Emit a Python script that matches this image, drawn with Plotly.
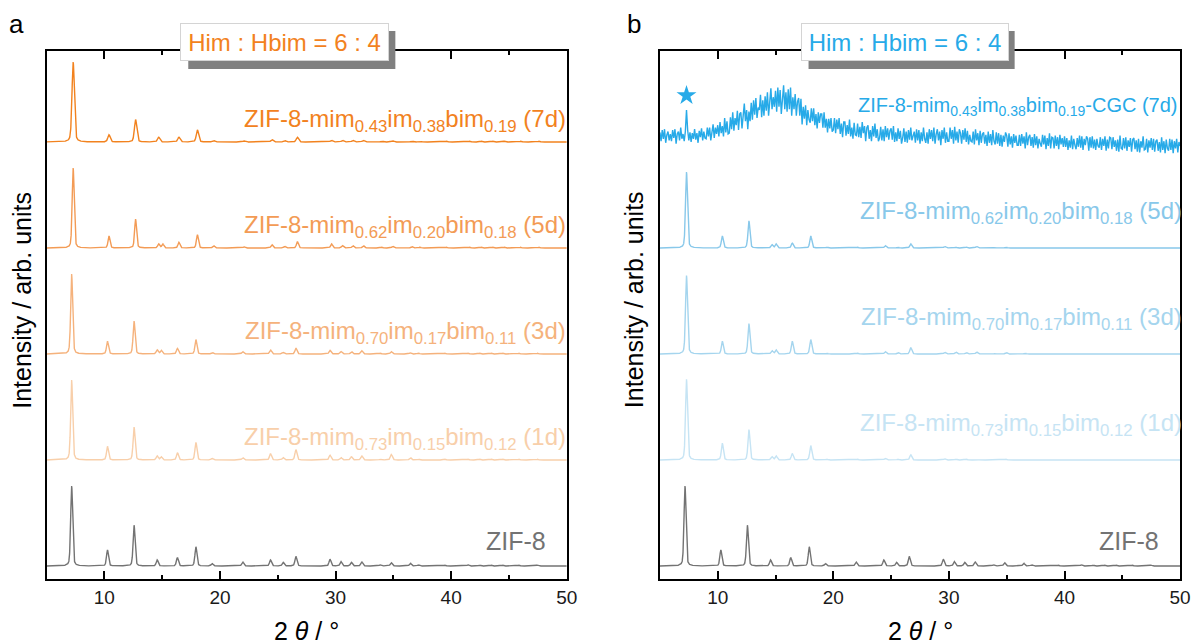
import numpy as np
import plotly.graph_objects as go

# ---------------- data ----------------
PEAK_POS = [7.3, 10.4, 12.7, 14.7, 15.05, 16.45, 18.05, 19.45, 22.1, 24.5, 25.6, 26.7,
            29.65, 30.6, 31.5, 32.4, 34.0, 34.95, 36.6, 37.3, 39.6, 41.6, 42.6, 43.6,
            44.6, 46.0, 47.6]

ZIF8 = [100, 20, 51, 7.5, 0, 10.5, 24, 3, 5, 7.5, 4.5, 12, 8.5, 5.5, 4.5, 5, 1.5, 4, 3.5,
        1.5, 1, 1.5, 1, 1, 1, 1, 1.2]
A_1D = [100, 17, 41, 5, 4, 9, 22, 2, 3, 8, 3, 13, 6, 3, 4, 5, 1, 7, 3, 1, 1, 1, 1, 1, 1, 1, 1]
A_3D = [100, 16, 41, 5, 4.5, 7, 18, 2, 3, 5, 2, 7.5, 4.5, 3, 3, 4, 1, 3, 1.5, 1, 1, 1, 1, 1, 1, 1, 1]
A_5D = [100, 15, 36, 5, 5, 7, 16.5, 3, 1.5, 4, 2, 8, 5, 3, 3, 3, 1, 2, 2, 1, 1, 1, 1, 1, 1, 1, 1]
A_7D = [100, 9, 28, 6, 0, 6, 15, 2, 1.5, 3, 2, 6, 2, 2, 2, 2, 1, 1.5, 1, 1, 1, 1, 1, 1, 1, 1, 1]

B_1D = [101, 21, 38, 4, 5, 8, 18, 1, 1, 2, 1, 6.5, 1.5, 1, 1, 1, 0.5, 1, 0.5, 0.5, 0.5, 0.5,
        0.5, 0.5, 0.5, 0.5, 0.5]
B_3D = [98, 16, 38, 4, 5, 16, 18, 1, 1, 3, 2, 8, 2, 2.5, 2, 2.5, 0.5, 2, 1, 0.5, 0.5, 0.5,
        0.5, 0.5, 0.5, 0.5, 0.5]
B_5D = [95, 15, 34, 4, 5, 6, 15, 1, 1, 3, 1, 5, 2, 1, 1, 2, 0.5, 1, 0.5, 0.5, 0.5, 0.5, 0.5,
        0.5, 0.5, 0.5, 0.5]

# peak-position shifts (deg) per pattern
SHIFT_ZIF8 = -0.13
SHIFT_A = {"1d": -0.13, "3d": -0.13, "5d": 0.0, "7d": 0.0}

# amorphous CGC pattern, 5.0 .. 50.0 deg in 0.1 deg steps
CGC_START, CGC_STEP = 5.0, 0.1
CGC = [12, 1, 15, 4, 16, -1, 9, 13, 2, 10,
       1, 15, 5, 16, -2, 10, 13, 2, 18, 4,
       10, 1, 13, 40, 15, 2, 12, 0, 11, 4,
       16, 3, 11, -1, 14, 6, 17, 2, 13, 5,
       4, 18, 7, 18, 2, 16, 22, 5, 18, 10,
       21, 7, 25, 11, 20, 7, 30, 12, 26, 10,
       11, 31, 16, 37, 14, 30, 21, 39, 15, 35,
       37, 17, 34, 48, 26, 40, 16, 38, 26, 49,
       28, 52, 34, 55, 30, 43, 40, 59, 31, 52,
       33, 57, 39, 62, 33, 53, 67, 41, 56, 44,
       64, 38, 68, 44, 65, 35, 59, 71, 41, 62,
       38, 66, 41, 68, 33, 56, 41, 60, 33, 50,
       55, 33, 54, 22, 44, 29, 46, 21, 40, 28,
       24, 42, 26, 42, 21, 35, 17, 37, 24, 35,
       35, 18, 37, 18, 29, 12, 29, 17, 30, 13,
       15, 30, 11, 28, 16, 30, 10, 23, 6, 25,
       25, 8, 21, 10, 28, 7, 18, 4, 24, 9,
       8, 23, 6, 19, 5, 25, 11, 20, 1, 18,
       21, 4, 15, 1, 20, 7, 23, 5, 16, 1,
       5, 19, 2, 16, 1, 20, 6, 17, 3, 14,
       17, 3, 20, 0, 12, 1, 17, 4, 14, -2,
       5, 17, 0, 13, -1, 15, 3, 18, 2, 10,
       13, -1, 16, 2, 15, -2, 12, 1, 18, 4,
       -1, 12, -2, 16, 4, 15, 1, 18, -2, 10,
       16, 2, 13, -4, 15, 4, 18, -1, 12, 1,
       1, 18, 4, 15, -2, 19, 2, 13, -1, 16,
       11, -2, 15, 3, 17, 0, 14, -3, 9, 1,
       0, 13, -3, 16, 2, 11, -4, 14, -1, 10,
       12, -2, 9, -5, 13, -1, 10, -4, 15, 1,
       -3, 12, -2, 11, -5, 9, -6, 8, 0, 12,
       8, -6, 11, -3, 7, -7, 10, -1, 8, -4,
       -4, 9, -5, 10, -2, 7, -8, 12, -4, 6,
       9, -5, 6, -7, 10, -4, 7, -8, 4, -2,
       -6, 9, -3, 8, -9, 5, -5, 11, -8, 6,
       5, -8, 8, -5, 6, -9, 9, -3, 5, -6,
       7, -6, 5, -10, 2, -7, 8, -9, 4, -4,
       -9, 5, -6, 8, -7, 7, -10, 4, -4, 7,
       4, -11, 6, -7, 7, -8, 3, -10, 4, -5,
       -7, 6, -10, 4, -5, 7, -11, 3, -8, 6,
       5, -9, 6, -6, 2, -11, 3, -12, 8, -8,
       -9, 5, -8, 6, -11, 2, -6, 5, -12, 3,
       5, -9, 2, -12, 4, -13, 1, -7, 7, -10,
       -9, 4, -13, 2, -7, 5, -10, 4, -12, 1,
       3, -11, 0, -13, 6, -10, 1, -14, 3, -8,
       -11, 4, -10, 3, -14, 1, -8, 4, -13, 0,
       -5]
STAR_X, STAR_Y = 7.3, 58

OFFSET = 132.5
LABELS_A = ["ZIF-8",
            "ZIF-8-mim<sub>0.73</sub>im<sub>0.15</sub>bim<sub>0.12</sub> (1d)",
            "ZIF-8-mim<sub>0.70</sub>im<sub>0.17</sub>bim<sub>0.11</sub> (3d)",
            "ZIF-8-mim<sub>0.62</sub>im<sub>0.20</sub>bim<sub>0.18</sub> (5d)",
            "ZIF-8-mim<sub>0.43</sub>im<sub>0.38</sub>bim<sub>0.19</sub> (7d)"]
LABELS_B = ["ZIF-8",
            "ZIF-8-mim<sub>0.73</sub>im<sub>0.15</sub>bim<sub>0.12</sub> (1d)",
            "ZIF-8-mim<sub>0.70</sub>im<sub>0.17</sub>bim<sub>0.11</sub> (3d)",
            "ZIF-8-mim<sub>0.62</sub>im<sub>0.20</sub>bim<sub>0.18</sub> (5d)",
            "ZIF-8-mim<sub>0.43</sub>im<sub>0.38</sub>bim<sub>0.19</sub>-CGC (7d)"]
BOX_TEXT = "Him : Hbim = 6 : 4"

# ---------------- style ----------------
GRAY = "#737373"
ORANGES = [GRAY, "#F8CFAA", "#F5B27C", "#F39B55", "#F2821E"]
BLUES = [GRAY, "#C6E4F4", "#A5D5EE", "#88C8EA", "#27AAE8"]
FONT = "Liberation Sans, Arial, sans-serif"

W, H = 1204, 644
PL = (47, 572)
PR = (666, 1191)
PT, PB = 51, 579
BOXES = [(183, 392, ORANGES[4]), (809, 1017, BLUES[4])]   # box left/right (px)
BOX_T, BOX_B = 23, 61
SHADOW_DX, SHADOW_DY = 7, 8

grid = np.round(np.arange(5.0, 50.0001, 0.01), 2)


def profile(heights, shift, fwhm=0.2):
    y = np.zeros_like(grid)
    sig = fwhm / 2.3548
    for p, h in zip(PEAK_POS, heights):
        if h <= 0:
            continue
        d = grid - (p + shift)
        y += h * (0.65 * np.exp(-0.5 * (d / sig) ** 2) + 0.35 / (1 + (2 * d / fwhm) ** 2))
    return y


fig = go.Figure()

# left panel
left_sets = [(ZIF8, SHIFT_ZIF8), (A_1D, SHIFT_A["1d"]), (A_3D, SHIFT_A["3d"]),
             (A_5D, SHIFT_A["5d"]), (A_7D, SHIFT_A["7d"])]
for i, (hs, sh) in enumerate(left_sets):
    fig.add_trace(go.Scatter(x=grid, y=profile(hs, sh, 0.24 if i == 4 else 0.2) + i * OFFSET,
                             mode="lines", line=dict(color=ORANGES[i], width=1.4),
                             xaxis="x", yaxis="y", hoverinfo="skip"))

# right panel
right_sets = [(ZIF8, SHIFT_ZIF8), (B_1D, 0.0), (B_3D, 0.0), (B_5D, 0.0)]
for i, (hs, sh) in enumerate(right_sets):
    fig.add_trace(go.Scatter(x=grid, y=profile(hs, sh) + i * OFFSET,
                             mode="lines", line=dict(color=BLUES[i], width=1.4),
                             xaxis="x2", yaxis="y2", hoverinfo="skip"))
cgc_x = CGC_START + CGC_STEP * np.arange(len(CGC))
fig.add_trace(go.Scatter(x=cgc_x, y=np.array(CGC) + 4 * OFFSET, mode="lines",
                         line=dict(color=BLUES[4], width=1.4), xaxis="x2", yaxis="y2",
                         hoverinfo="skip"))
fig.add_trace(go.Scatter(x=[STAR_X], y=[STAR_Y + 4 * OFFSET], mode="markers",
                         marker=dict(symbol="star", size=15, color=BLUES[4]),
                         xaxis="x2", yaxis="y2", hoverinfo="skip"))

ydom = [(H - PB) / H, (H - PT) / H]
yrng = [-13 / 0.8, (PB - PT - 13) / 0.8]


def xax(dom, anchor):
    return dict(domain=[dom[0] / W, dom[1] / W], range=[5, 50], anchor=anchor,
                tickvals=[10, 20, 30, 40, 50], ticks="inside", ticklen=8, tickwidth=1.5,
                tickcolor="black", showline=True, linecolor="black", linewidth=1.5,
                mirror="ticks", showgrid=False, zeroline=False,
                tickfont=dict(family=FONT, size=19, color="#1a1a1a"),
                minor=dict(tickvals=[15, 25, 35, 45], ticks="inside", ticklen=4.5,
                           tickwidth=1.5, tickcolor="black"))


def yax(anchor):
    return dict(domain=ydom, range=yrng, anchor=anchor, showticklabels=False, ticks="",
                showline=True, linecolor="black", linewidth=1.5, mirror=True,
                showgrid=False, zeroline=False)


fig.update_layout(width=W, height=H, margin=dict(l=0, r=0, t=0, b=0),
                  paper_bgcolor="white", plot_bgcolor="white", showlegend=False,
                  font=dict(family=FONT),
                  xaxis=xax(PL, "y"), yaxis=yax("x"),
                  xaxis2=xax(PR, "y2"), yaxis2=yax("x2"))

ann = []
shapes = []
# sample labels
for i, t in enumerate(LABELS_A):
    ann.append(dict(x=50, y=i * OFFSET + (31 if i == 0 else 27), xref="x", yref="y",
                    text=t, showarrow=False, xanchor="right", yanchor="middle",
                    xshift=-19 if i == 0 else 1,
                    font=dict(family=FONT, size=25 if i == 0 else 24,
                              color=ORANGES[i] if i else "#737373")))
for i, t in enumerate(LABELS_B):
    ann.append(dict(x=50, y=i * OFFSET + (31 if i == 0 else 44), xref="x2", yref="y2",
                    text=t, showarrow=False, xanchor="right", yanchor="middle",
                    xshift=-19 if i == 0 else (0 if i == 4 else 4),
                    font=dict(family=FONT, size=25 if i == 0 else (20 if i == 4 else 24),
                              color=BLUES[i] if i else "#737373")))

# framed titles with drop shadow
for x0, x1, col in BOXES:
    shapes.append(dict(type="rect", xref="paper", yref="paper", layer="above",
                       x0=(x0 + SHADOW_DX) / W, x1=(x1 + SHADOW_DX) / W,
                       y0=1 - (BOX_B + SHADOW_DY) / H, y1=1 - (BOX_T + SHADOW_DY) / H,
                       fillcolor="#808080", line=dict(width=0)))
    ann.append(dict(x=(x0 + x1) / 2 / W, y=1 - (BOX_T + BOX_B) / 2 / H, xref="paper",
                    yref="paper", text=BOX_TEXT, showarrow=False, xanchor="center",
                    yanchor="middle", width=x1 - x0 - 12, height=BOX_B - BOX_T - 12,
                    bgcolor="white", bordercolor="#d4d4d4", borderwidth=1, borderpad=5,
                    font=dict(family=FONT, size=24, color=col)))

# panel letters
for x, t in [(17, "a"), (640, "b")]:
    ann.append(dict(x=x / W, y=1 - 24 / H, xref="paper", yref="paper", text=t,
                    showarrow=False, xanchor="center", yanchor="middle",
                    font=dict(family=FONT, size=26, color="black")))

# axis titles
for cx in [(PL[0] + PL[1]) / 2, (PR[0] + PR[1]) / 2]:
    ann.append(dict(x=cx / W, y=1 - 631 / H, xref="paper", yref="paper",
                    text="2 <i>θ</i> / °", showarrow=False, xanchor="center",
                    yanchor="middle", font=dict(family=FONT, size=25, color="black")))
for cx in [22, 640]:
    ann.append(dict(x=cx / W, y=1 - 300 / H, xref="paper", yref="paper",
                    text="Intensity / arb. units", showarrow=False, textangle=-90,
                    xanchor="center", yanchor="middle",
                    font=dict(family=FONT, size=25, color="black")))

fig.update_layout(annotations=ann, shapes=shapes)
fig.write_html("out.html")
